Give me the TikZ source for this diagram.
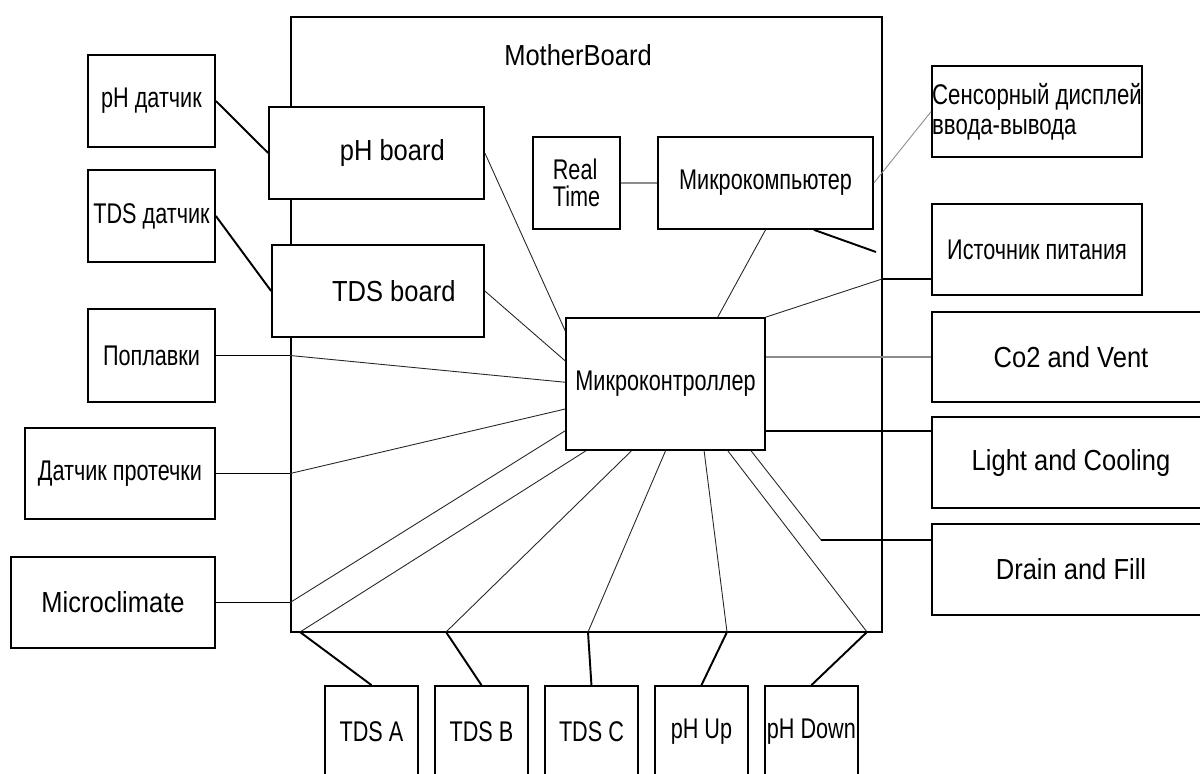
\documentclass[tikz,border=0pt]{standalone}
\usepackage{fontspec}
\setmainfont{Liberation Sans}
\newfontfamily\narrowsmall[FakeStretch=0.76]{Liberation Sans}
\newfontfamily\narrowmid[FakeStretch=0.78]{Liberation Sans}
\newfontfamily\narrowbig[FakeStretch=0.88]{Liberation Sans}
\usetikzlibrary{positioning}

\newcommand\smalltxt{\narrowsmall\fontsize{16.2}{15.4}\selectfont}
\newcommand\bigtxt{\narrowbig\fontsize{16.5}{17}\selectfont}

\begin{document}
\begin{tikzpicture}[x=0.02cm,y=-0.02cm,node distance=2.2cm,
    box/.style={draw,line width=1pt,fill=white,inner sep=1pt,font=\smalltxt},
    bigbox/.style={box,font=\bigtxt},
    wire/.style={line width=1.1pt},
    fine/.style={line width=0.5pt,black!85},
    greywire/.style={line width=0.9pt,black!45}]
    \path[use as bounding box,fill=white] (0,0) rectangle (1200,774);

    % motherboard
    \node[draw,line width=1pt,minimum width=11.82cm,minimum height=12.3cm] (mb) at (586.5,324.5) {};
    \node[font=\bigtxt] (mbname) at (578,55) {MotherBoard};

    % sensors on the left
    \node[box,minimum width=2.54cm,minimum height=1.84cm] (phs) at (151.5,101) {pH датчик};
    \node[box,minimum width=2.54cm,minimum height=1.84cm] (tdss) at (151.5,216) {TDS датчик};
    \node[box,minimum width=2.54cm,minimum height=1.86cm] (pop) at (151.5,355.5) {Поплавки};
    \node[box,minimum width=3.8cm,minimum height=1.82cm] (leak) at (120,473.5) {Датчик протечки};
    \node[bigbox,minimum width=4.08cm,minimum height=1.82cm] (clim) at (113,602.5) {Microclimate};

    % boards
    \node[bigbox,minimum width=4.3cm,minimum height=1.84cm] (phb) at (376.5,153) {\hspace*{18pt}pH board};
    \node[bigbox,minimum width=4.24cm,minimum height=1.84cm] (tdsb) at (378,291) {\hspace*{18pt}TDS board};
    \node[box,align=left,minimum width=1.74cm,minimum height=1.84cm] (rtc) at (576.5,183) {Real\\Time};
    \node[box,minimum width=4.3cm,minimum height=1.84cm] (mpc) at (765.5,183) {Микрокомпьютер};
    \node[box,minimum width=3.98cm,minimum height=2.64cm] (mcu) at (665.5,384) {Микроконтроллер};

    % right side
    \node[box,font=\narrowmid\fontsize{16.2}{15.4}\selectfont,align=left,inner sep=0pt,minimum width=4.2cm,minimum height=1.82cm] (disp) at (1037,111.5) {Сенсорный дисплей\\[1.6pt]ввода-вывода};
    \node[box,minimum width=4.2cm,minimum height=1.82cm] (psu) at (1037,249.5) {Источник питания};
    \node[bigbox,minimum width=5.56cm,minimum height=1.8cm] (co2) at (1071,357) {Co2 and Vent};
    \node[bigbox,minimum width=5.56cm,minimum height=1.82cm] (light) at (1071,462.5) {Light and Cooling};
    \node[bigbox,minimum width=5.56cm,minimum height=1.82cm] (drain) at (1071,569.5) {Drain and Fill};

    % pumps
    \node[box,minimum width=1.86cm,minimum height=1.84cm] (tdsa) at (371.5,732) {TDS A};
    \node[box,minimum width=1.86cm,minimum height=1.84cm] (tdsb2) [right of=tdsa] {TDS B};
    \node[box,minimum width=1.86cm,minimum height=1.84cm] (tdsc) [right of=tdsb2] {TDS C};
    \node[box,minimum width=1.86cm,minimum height=1.84cm] (phup) [right of=tdsc] {pH Up};
    \node[box,minimum width=1.86cm,minimum height=1.84cm] (phdn) [right of=phup] {pH Down};

    \coordinate (stub) at (876,252);
    \coordinate (jp) at (882,279);
    \coordinate (jd) at (821,540);
    \coordinate (ja) at (300,632);
    \coordinate (jb) at (446,632);
    \coordinate (jc) at (588,632);
    \coordinate (jup) at (727,632);
    \coordinate (jdn) at (867,632);

    \path   (phs.east) edge[wire] (phb.west)
            (tdss.east) edge[wire] (tdsb.west)
            (phb.east) edge[fine] (mcu.152)
            (tdsb.east) edge[fine] (mcu.167)
            (pop.east) edge[wire] (pop.east -| mb.west)
            (pop.east -| mb.west) edge[fine] (mcu.179)
            (leak.east) edge[wire] (leak.east -| mb.west)
            (leak.east -| mb.west) edge[fine] (mcu.194)
            (clim.east) edge[wire] (clim.east -| mb.west)
            (clim.east -| mb.west) edge[fine] (mcu.205)
            (rtc.east) edge[greywire] (mpc.west)
            (mpc.east) edge[greywire,line width=0.5pt] (disp.west)
            (mpc.south) edge[fine] (mcu.52)
            (mpc.316) edge[wire] (stub)
            (mcu.north east) edge[fine] (jp)
            (jp) edge[wire] (jp -| psu.west)
            (mcu.east |- co2.west) edge[greywire] (co2.west)
            (mcu.335) edge[line width=0.8pt] (mcu.335 -| light.west)
            (mcu.322) edge[fine] (jd)
            (jd) edge[wire] (jd -| drain.west);

    \foreach \a/\j/\b in {220/ja/tdsa,243/jb/tdsb2,270/jc/tdsc,300/jup/phup,313/jdn/phdn}
        \path (mcu.\a) edge[fine] (\j)
              (\j) edge[wire] (\b.north);
\end{tikzpicture}
\end{document}
